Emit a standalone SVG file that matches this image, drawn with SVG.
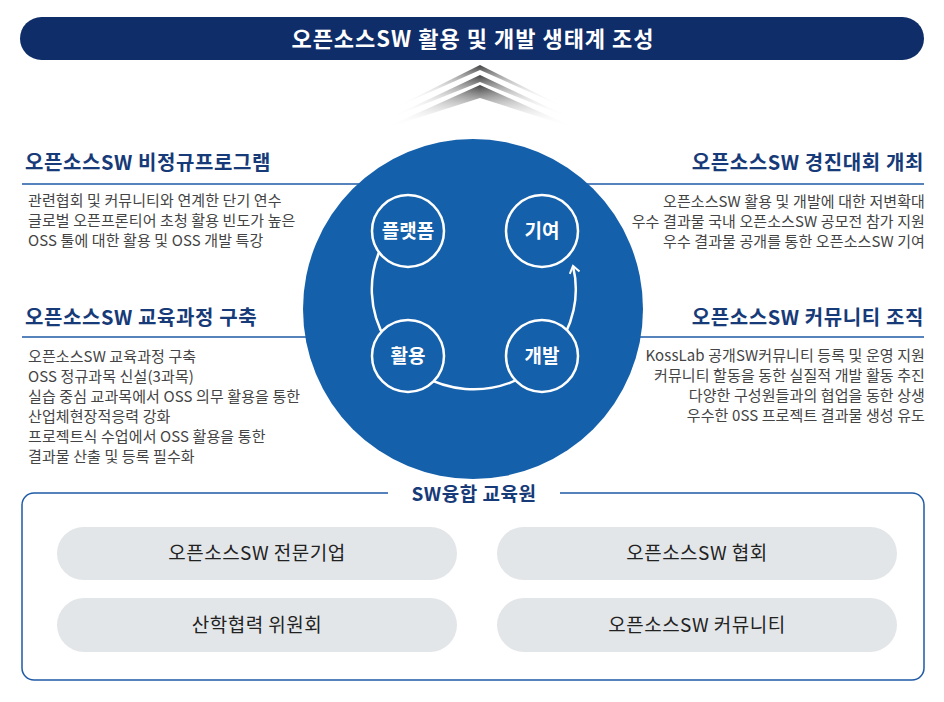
<svg xmlns="http://www.w3.org/2000/svg" width="944" height="702" viewBox="0 0 944 702">
<style>
text{font-family:"Noto Sans CJK KR","Noto Sans",sans-serif}
.h{font-size:20px;font-weight:700;fill:#173a78;letter-spacing:0.6px}
.b{font-size:15px;fill:#444;letter-spacing:0.1px}
.r{text-anchor:end}
.rule{stroke:#1f5aa6;stroke-width:1.3}
.sm{fill:#1560aa;stroke:#fff;stroke-width:2.5}
.st{font-size:19px;font-weight:700;fill:#fff;text-anchor:middle}
.pill{fill:#e3e6e8}
.pt{font-size:19px;fill:#222;text-anchor:middle;letter-spacing:0.5px}
</style>
<defs>
<linearGradient id="g" x1="0" y1="0" x2="0" y2="1"><stop offset="0" stop-color="#444"/><stop offset="1" stop-color="#fff" stop-opacity="0"/></linearGradient>
<linearGradient id="gh" x1="0" y1="0" x2="1" y2="0"><stop offset="0" stop-color="#fff"/><stop offset="0.5" stop-color="#fff" stop-opacity="0"/><stop offset="1" stop-color="#fff"/></linearGradient>
<marker id="a" viewBox="0 0 12 12" refX="8" refY="6" markerWidth="12" markerHeight="12" markerUnits="userSpaceOnUse" orient="auto"><path d="M1,1 L8,6 L1,11" fill="none" stroke="#fff" stroke-width="2"/></marker>
</defs>
<g id="title"><rect x="20" y="17" width="904" height="43" rx="21.5" fill="#0f2d69"/><text x="473" y="47" font-size="22" font-weight="700" fill="#fff" text-anchor="middle" letter-spacing="1">오픈소스SW 활용 및 개발 생태계 조성</text></g>
<g id="chevrons">
<polygon points="480,65 570,110 480,70 390,110" fill="url(#g)"/>
<polygon points="480,75 575,120 480,82 385,120" fill="url(#g)"/>
<polygon points="480,85 580,130 480,98 380,130" fill="url(#g)"/>
<rect x="370" y="60" width="220" height="75" fill="url(#gh)"/>
</g>
<g id="left1"><text class="h" x="25" y="170">오픈소스SW 비정규프로그램</text><line class="rule" x1="22" y1="184" x2="370" y2="184"/>
<text class="b" x="28" y="206">관련협회 및 커뮤니티와 연계한 단기 연수</text><text class="b" x="28" y="226">글로벌 오픈프론티어 초청 활용 빈도가 높은</text><text class="b" x="28" y="246">OSS 툴에 대한 활용 및 OSS 개발 특강</text></g>
<g id="left2"><text class="h" x="25" y="325">오픈소스SW 교육과정 구축</text><line class="rule" x1="22" y1="337" x2="370" y2="337"/>
<text class="b" x="28" y="362">오픈소스SW 교육과정 구축</text><text class="b" x="28" y="382">OSS 정규과목 신설(3과목)</text><text class="b" x="28" y="402">실습 중심 교과목에서 OSS 의무 활용을 통한</text><text class="b" x="28" y="422">산업체현장적응력 강화</text><text class="b" x="28" y="442">프로젝트식 수업에서 OSS 활용을 통한</text><text class="b" x="28" y="462">결과물 산출 및 등록 필수화</text></g>
<g id="right1"><text class="h r" x="924" y="170">오픈소스SW 경진대회 개최</text><line class="rule" x1="580" y1="184" x2="924" y2="184"/>
<text class="b r" x="925" y="207">오픈소스SW 활용 및 개발에 대한 저변확대</text><text class="b r" x="925" y="227">우수 결과물 국내 오픈소스SW 공모전 참가 지원</text><text class="b r" x="925" y="247">우수 결과물 공개를 통한 오픈소스SW 기여</text></g>
<g id="right2"><text class="h r" x="924" y="325">오픈소스SW 커뮤니티 조직</text><line class="rule" x1="580" y1="337" x2="924" y2="337"/>
<text class="b r" x="925" y="361">KossLab 공개SW커뮤니티 등록 및 운영 지원</text><text class="b r" x="925" y="381">커뮤니티 할동을 동한 실질적 개발 활동 추진</text><text class="b r" x="925" y="401">다양한 구성원들과의 협업을 동한 상생</text><text class="b r" x="925" y="421">우수한 0SS 프로젝트 결과물 생성 유도</text></g>
<g id="hub"><circle cx="473" cy="309" r="170" fill="#1560aa"/></g>
<g id="connectors"><path d="M380,250 A102 100 0 1 0 573,266" fill="none" stroke="#fff" stroke-width="2.5" marker-end="url(#a)"/></g>
<g id="n1"><circle class="sm" cx="408" cy="231" r="36"/><text class="st" x="408" y="238">플랫폼</text></g>
<g id="n2"><circle class="sm" cx="542" cy="231" r="36"/><text class="st" x="542" y="238">기여</text></g>
<g id="n3"><circle class="sm" cx="408" cy="356" r="36"/><text class="st" x="408" y="363">활용</text></g>
<g id="n4"><circle class="sm" cx="542" cy="356" r="36"/><text class="st" x="542" y="363">개발</text></g>
<g id="center"><rect x="22" y="493" width="902" height="187" rx="12" fill="none" stroke="#1f5aa6" stroke-width="1.5"/>
<rect x="388" y="482" width="172" height="22" fill="#fff"/><text x="474" y="501" font-size="19" font-weight="700" fill="#173a78" text-anchor="middle" letter-spacing="0.5">SW융합 교육원</text></g>
<g id="p1"><rect class="pill" x="57" y="527" width="400" height="53" rx="26.5"/><text class="pt" x="257" y="560">오픈소스SW 전문기업</text></g>
<g id="p2"><rect class="pill" x="497" y="527" width="400" height="53" rx="26.5"/><text class="pt" x="697" y="560">오픈소스SW 협회</text></g>
<g id="p3"><rect class="pill" x="57" y="598" width="400" height="54" rx="27"/><text class="pt" x="257" y="632">산학협력 위원회</text></g>
<g id="p4"><rect class="pill" x="497" y="598" width="400" height="54" rx="27"/><text class="pt" x="697" y="632">오픈소스SW 커뮤니티</text></g>
</svg>
